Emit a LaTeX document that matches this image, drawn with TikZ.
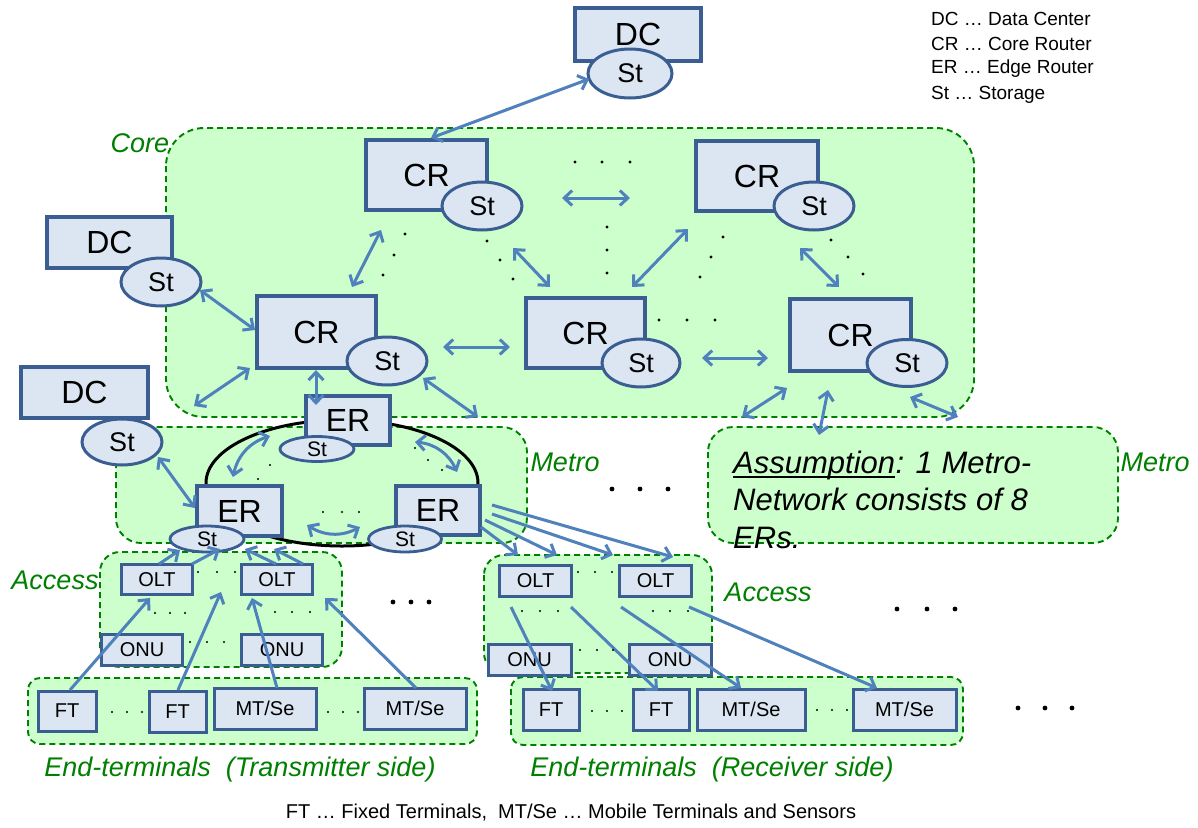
\documentclass[tikz,border=0pt]{standalone}
\usepackage{fontspec}
\setmainfont{Liberation Sans}
\usetikzlibrary{shapes.geometric,arrows.meta}
\definecolor{boxfill}{HTML}{DCE6F2}
\definecolor{boxline}{HTML}{3A5E91}
\definecolor{arrc}{HTML}{4F81BD}
\definecolor{regfill}{HTML}{CCFFCC}
\definecolor{regline}{HTML}{008000}
\definecolor{labgreen}{HTML}{008000}
\tikzset{
  bx/.style={draw=boxline, fill=boxfill, line width=3.2pt, inner sep=0pt, font=\fontsize{32}{36}\selectfont},
  sbx/.style={bx, line width=3pt, font=\fontsize{20}{24}\selectfont},
  st/.style={ellipse, draw=boxline, fill=boxfill, line width=3pt, inner sep=0pt, font=\fontsize{27}{30}\selectfont},
  sst/.style={st, line width=2.8pt, font=\fontsize{21}{24}\selectfont},
  region/.style={draw=regline, fill=regfill, dash pattern=on 6pt off 4pt, line width=1.9pt},
  tipb/.tip={Straight Barb[length=8pt,width=15pt]},
  arr/.style={draw=arrc, line width=3pt, tipb-tipb},
  sarr/.style={draw=arrc, line width=3pt, -tipb},
  lbl/.style={text=labgreen, font=\fontsize{27}{30}\selectfont\itshape, inner sep=0pt},
  txt/.style={font=\fontsize{19}{22}\selectfont, inner sep=0pt},
  asm/.style={anchor=base west, inner sep=0pt, font=\fontsize{31}{36}\selectfont\itshape},
}
\begin{document}
\begin{tikzpicture}[x=1pt,y=-1pt]
\useasboundingbox[fill=white] (0,0) rectangle (1198,827);

% regions
\draw[region, rounded corners=38pt] (166,128) rectangle (974,417);
\draw[region, rounded corners=25pt] (116,427) rectangle (527,543);
\draw[region, rounded corners=25pt] (708,427) rectangle (1118,543);
\draw[region, rounded corners=20pt] (100,552) rectangle (342,667);
\draw[region, rounded corners=20pt] (484,555) rectangle (712,673);
\draw[region, rounded corners=12pt] (28,678) rectangle (477,744);
\draw[region, rounded corners=12pt] (511,677) rectangle (963,745);

% metro ring
\draw[line width=3pt] (342,483) ellipse [x radius=136pt, y radius=63pt];

% data centers
\node[bx, minimum width=126pt, minimum height=53pt] (dc1) at (638,34.5) {DC};
\node[st, minimum width=84pt, minimum height=49pt] (dc1st) at (630,73.5) {St};
\node[bx, minimum width=125pt, minimum height=51pt] (dc2) at (109.5,242.5) {DC};
\node[st, minimum width=80pt, minimum height=48pt] (dc2st) at (161,282) {St};
\node[bx, minimum width=127pt, minimum height=51pt] (dc3) at (84.5,392.5) {DC};
\node[st, minimum width=80pt, minimum height=46pt] (dc3st) at (122,442) {St};

% core routers
\node[bx, minimum width=121pt, minimum height=70pt] (cr1) at (426.5,175) {CR};
\node[st, minimum width=80pt, minimum height=48pt] (cr1st) at (482,206) {St};
\node[bx, minimum width=122pt, minimum height=70pt] (cr2) at (757,176) {CR};
\node[st, minimum width=80pt, minimum height=48pt] (cr2st) at (814,206) {St};
\node[bx, minimum width=119pt, minimum height=72pt] (cr3) at (316.5,332) {CR};
\node[st, minimum width=80pt, minimum height=48pt] (cr3st) at (387,361) {St};
\node[bx, minimum width=119pt, minimum height=70pt] (cr4) at (585.5,333) {CR};
\node[st, minimum width=78pt, minimum height=48pt] (cr4st) at (641,363) {St};
\node[bx, minimum width=121pt, minimum height=72pt] (cr5) at (850.5,335) {CR};
\node[st, minimum width=80pt, minimum height=47pt] (cr5st) at (907,363) {St};

% edge routers
\node[bx, minimum width=84pt, minimum height=49pt] (ert) at (348,420.5) {ER};
\node[sst, minimum width=74pt, minimum height=25pt] (ertst) at (317,449) {St};
\node[bx, minimum width=85pt, minimum height=50pt] (erl) at (239.5,511) {ER};
\node[sst, minimum width=74pt, minimum height=26pt] (erlst) at (207,539) {St};
\node[bx, minimum width=84pt, minimum height=49pt] (err) at (438,510.5) {ER};
\node[sst, minimum width=73pt, minimum height=26pt] (errst) at (405,539) {St};

% access (left)
\node[sbx, minimum width=71pt, minimum height=30pt] (olt1) at (157,579.5) {OLT};
\node[sbx, minimum width=71pt, minimum height=30pt] (olt2) at (277,579.5) {OLT};
\node[sbx, minimum width=81pt, minimum height=31pt] (onu1) at (142,650) {ONU};
\node[sbx, minimum width=81pt, minimum height=31pt] (onu2) at (282,650) {ONU};
% access (right)
\node[sbx, minimum width=72pt, minimum height=31pt] (olt3) at (535.5,581) {OLT};
\node[sbx, minimum width=72pt, minimum height=31pt] (olt4) at (655.5,581) {OLT};
\node[sbx, minimum width=83pt, minimum height=31pt] (onu3) at (529.5,659.5) {ONU};
\node[sbx, minimum width=82pt, minimum height=31pt] (onu4) at (670,659.5) {ONU};

% end terminals
\node[sbx, minimum width=58pt, minimum height=40pt] (ft1) at (67,711) {FT};
\node[sbx, minimum width=57pt, minimum height=41pt] (ft2) at (177.5,711.5) {FT};
\node[sbx, minimum width=102pt, minimum height=41pt] (mt1) at (265,708.5) {MT/Se};
\node[sbx, minimum width=102pt, minimum height=41pt] (mt2) at (415,708.5) {MT/Se};
\node[sbx, minimum width=56pt, minimum height=41pt] (ft3) at (551,709.5) {FT};
\node[sbx, minimum width=56pt, minimum height=41pt] (ft4) at (661,709.5) {FT};
\node[sbx, minimum width=108pt, minimum height=41pt] (mt3) at (751,709.5) {MT/Se};
\node[sbx, minimum width=103pt, minimum height=41pt] (mt4) at (904.5,709.5) {MT/Se};

% arrow end coordinates
\coordinate (a1s) at (431,138); \coordinate (a1e) at (589,79);
\coordinate (a2s) at (562,198); \coordinate (a2e) at (630,198);
\coordinate (a3s) at (381,230); \coordinate (a3e) at (352,287);
\coordinate (a4s) at (513,248); \coordinate (a4e) at (550,287);
\coordinate (a5s) at (688,229); \coordinate (a5e) at (632,287);
\coordinate (a6s) at (800,248); \coordinate (a6e) at (839,287);
\coordinate (a7s) at (443,347); \coordinate (a7e) at (510,347);
\coordinate (a8s) at (702,358); \coordinate (a8e) at (768,358);
\coordinate (a9s) at (200,290); \coordinate (a9e) at (255,330);
\coordinate (a10s) at (250,368); \coordinate (a10e) at (194,406);
\coordinate (a11s) at (316,370); \coordinate (a11e) at (316,405);
\coordinate (a12s) at (423,378); \coordinate (a12e) at (478,417);
\coordinate (a13s) at (787,388); \coordinate (a13e) at (742,417);
\coordinate (a14s) at (828,390); \coordinate (a14e) at (819,435);
\coordinate (a15s) at (910,397); \coordinate (a15e) at (958,417);
\coordinate (a16s) at (158,457); \coordinate (a16e) at (195,508);
\coordinate (a17s) at (270,436); \coordinate (a17e) at (233,477);
\coordinate (a18s) at (415,442); \coordinate (a18e) at (457,472);
\coordinate (a19s) at (307,525); \coordinate (a19e) at (360,527);

\draw[arr] (a1s) -- (a1e);
\draw[arr] (a2s) -- (a2e);
\draw[arr] (a3s) -- (a3e);
\draw[arr] (a4s) -- (a4e);
\draw[arr] (a5s) -- (a5e);
\draw[arr] (a6s) -- (a6e);
\draw[arr] (a7s) -- (a7e);
\draw[arr] (a8s) -- (a8e);
\draw[arr] (a9s) -- (a9e);
\draw[arr] (a10s) -- (a10e);
\draw[arr] (a11s) -- (a11e);
\draw[arr] (a12s) -- (a12e);
\draw[arr] (a13s) -- (a13e);
\draw[arr] (a14s) -- (a14e);
\draw[arr] (a15s) -- (a15e);
\draw[arr] (a16s) -- (a16e);
\draw[arr] (a17s) to[bend right=30] (a17e);
\draw[arr] (a18s) to[bend left=30] (a18e);
\draw[arr] (a19s) to[bend right=30] (a19e);

% OLT -> ER left storage
\coordinate (b1s) at (159,564); \coordinate (b1e) at (180,550);
\coordinate (b2s) at (192,564); \coordinate (b2e) at (220,549);
\coordinate (b3s) at (276,564); \coordinate (b3e) at (245,549);
\coordinate (b4s) at (303,564); \coordinate (b4e) at (274,549);
\draw[sarr] (b1s) -- (b1e);
\draw[sarr] (b2s) -- (b2e);
\draw[sarr] (b3s) -- (b3e);
\draw[sarr] (b4s) -- (b4e);

% ER right -> right OLTs
\coordinate (c1s) at (481,527); \coordinate (c1e) at (518,555);
\coordinate (c2s) at (485,520); \coordinate (c2e) at (557,555);
\coordinate (c3s) at (492,514); \coordinate (c3e) at (613,555);
\coordinate (c4s) at (492,505); \coordinate (c4e) at (673,557);
\draw[sarr] (c1s) -- (c1e);
\draw[sarr] (c2s) -- (c2e);
\draw[sarr] (c3s) -- (c3e);
\draw[sarr] (c4s) -- (c4e);

% transmitter side terminals -> access
\coordinate (d1s) at (70,690); \coordinate (d1e) at (150,598);
\coordinate (d2s) at (178,690); \coordinate (d2e) at (221,592);
\coordinate (d3s) at (277,688); \coordinate (d3e) at (252,598);
\coordinate (d4s) at (416,688); \coordinate (d4e) at (325,598);
\draw[sarr] (d1s) -- (d1e);
\draw[sarr] (d2s) -- (d2e);
\draw[sarr] (d3s) -- (d3e);
\draw[sarr] (d4s) -- (d4e);

% access -> receiver side terminals
\coordinate (e1s) at (511,607); \coordinate (e1e) at (552,691);
\coordinate (e2s) at (571,607); \coordinate (e2e) at (658,691);
\coordinate (e3s) at (621,607); \coordinate (e3e) at (741,688);
\coordinate (e4s) at (689,607); \coordinate (e4e) at (877,688);
\draw[sarr] (e1s) -- (e1e);
\draw[sarr] (e2s) -- (e2e);
\draw[sarr] (e3s) -- (e3e);
\draw[sarr] (e4s) -- (e4e);

% small dots
\foreach \x/\y in {575/162,602/162,630/162,
  405/234,394/255,383/275, 487/241,500/260,513/279,
  607/227,607/250,607/273, 723/237,711/257,700/277,
  831/240,848/257,863/274, 659/320,687/320,715/320}
  \fill (\x,\y) circle (1.6pt);
\foreach \x/\y in {270/465,258/479, 415/448,428/460,442/470, 323/512,342/512,359/512,
  198/572,217/572,235/572, 155/613,170/613,185/613, 275/612,292/612,310/612,
  190/642,207/642,224/642,
  578/572,595/572,612/572, 522/611,540/611,558/611, 653/611,670/611,688/611,
  580/650,597/650,613/650,
  112/712,127/712,142/712, 328/712,343/712,358/712,
  592/711,607/711,622/711, 817/710,832/710,847/710}
  \fill (\x,\y) circle (1.2pt);
% big dots
\foreach \x/\y in {612/489,640/489,668/489, 393/602,411/602,429/602,
  897/609,927/609,955/609, 1018/708,1045/708,1072/708}
  \fill (\x,\y) circle (2.4pt);

% labels
\node[lbl] (lcore) at (140,143) {Core};
\node[lbl] (lmetro1) at (565,462) {Metro};
\node[lbl] (lmetro2) at (1155,462) {Metro};
\node[lbl] (lacc1) at (55,580) {Access};
\node[lbl] (lacc2) at (768,592) {Access};
\node[lbl] (lend1) at (240,770) {End-terminals\ \ (Transmitter side)};
\node[lbl] (lend2) at (712,770) {End-terminals\ \ (Receiver side)};

\node[asm] (as1a) at (733,473) {Assumption};
\draw[line width=1.6pt] ([yshift=-4pt]as1a.base west) -- ([yshift=-4pt]as1a.base east);
\node[asm] (as1b) at (as1a.base east) {: 1 Metro-};
\node[asm] (as2) at (733,510) {Network consists of 8};
\node[asm] (as3) at (733,548) {ERs.};

\node[txt, anchor=west] (lg1) at (931,19) {DC … Data Center};
\node[txt, anchor=west] (lg2) at (931,44) {CR … Core Router};
\node[txt, anchor=west] (lg3) at (931,69) {ER … Edge Router};
\node[txt, anchor=west] (lg4) at (931,95) {St … Storage};

\node[txt, font=\fontsize{20}{24}\selectfont] (cap) at (571,813) {FT … Fixed Terminals,\ \ MT/Se … Mobile Terminals and Sensors};
\end{tikzpicture}
\end{document}
